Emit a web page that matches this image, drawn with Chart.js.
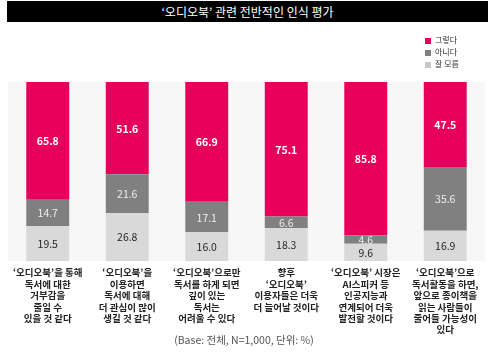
<!DOCTYPE html>
<html><head><meta charset="utf-8">
<script src="https://cdn.jsdelivr.net/npm/chart.js@4/dist/chart.umd.min.js"></script>
<style>
html,body{margin:0;padding:0;background:#fff;}
#wrap{position:relative;width:494px;height:355px;overflow:hidden;font-family:"Noto Sans CJK KR",sans-serif;}
#title{position:absolute;left:7px;top:1px;width:481px;height:21px;background:#000;color:#fff;font-size:12px;text-align:center;line-height:21px;}
#chart{position:absolute;left:0;top:0;}
#legend{position:absolute;left:425px;top:34px;font-size:8px;color:#333;}
#legend div{height:12px;line-height:12px;white-space:nowrap;}
#legend span{display:inline-block;width:6px;height:6px;margin-right:4px;vertical-align:-0.5px;}
#note{position:absolute;left:0;top:332px;width:488px;text-align:center;font-size:10.5px;color:#555;}
</style></head>
<body>
<div id="wrap">
<canvas id="chart" width="494" height="355"></canvas>
<div id="title">‘오디오북’ 관련 전반적인 인식 평가</div>
<div id="legend"></div>
<div id="note">(Base: 전체, N=1,000, 단위: %)</div>
</div>
<script>
const categories = [
  ["‘오디오북’을 통해","독서에 대한","거부감을","줄일 수","있을 것 같다"],
  ["‘오디오북’을","이용하면","독서에 대해","더 관심이 많이","생길 것 같다"],
  ["‘오디오북’으로만","독서를 하게 되면","깊이 있는","독서는","어려울 수 있다"],
  ["향후","‘오디오북’","이용자들은 더욱","더 늘어날 것이다"],
  ["‘오디오북’ 시장은","AI스피커 등","인공지능과","연계되어 더욱","발전할 것이다"],
  ["‘오디오북’으로","독서활동을 하면,","앞으로 종이책을","읽는 사람들이","줄어들 가능성이","있다"]
];
const seriesNames = ["그렇다","아니다","잘 모름"];
const yesValues = [65.8, 51.6, 66.9, 75.1, 85.8, 47.5];
const noValues = [14.7, 21.6, 17.1, 6.6, 4.6, 35.6];
const dontKnowValues = [19.5, 26.8, 16.0, 18.3, 9.6, 16.9];

const colors = {yes:"#e6005c", no:"#808080", dk:"#d9d9d9"};
const legendColors = [colors.yes, colors.no, "#c8c8c8"];
const FONT = "'Noto Sans CJK KR', sans-serif";

const leg = document.getElementById('legend');
seriesNames.forEach((n,i)=>{
  const d=document.createElement('div');
  d.innerHTML='<span style="background:'+legendColors[i]+'"></span>'+n;
  leg.appendChild(d);
});

const bgPlugin = {
  id:'bg',
  beforeDraw(chart){
    const {ctx, chartArea:a} = chart;
    ctx.save(); ctx.fillStyle='#f7f7f7';
    ctx.fillRect(a.left, a.top, a.right-a.left, a.bottom-a.top);
    ctx.restore();
  }
};
const labelPlugin = {
  id:'vals',
  afterDatasetsDraw(chart){
    const ctx=chart.ctx;
    chart.data.datasets.forEach((ds,di)=>{
      const meta=chart.getDatasetMeta(di);
      meta.data.forEach((el,i)=>{
        const v=ds.data[i];
        const y=(el.y+el.base)/2;
        ctx.save();
        ctx.font=(ds.labelBold?'bold ':'')+'10.5px '+FONT;
        ctx.fillStyle=ds.labelColor;
        ctx.textAlign='center'; ctx.textBaseline='middle';
        ctx.fillText(v.toFixed(1), el.x, y+0.5);
        ctx.restore();
      });
    });
  }
};

new Chart(document.getElementById('chart'),{
  type:'bar',
  data:{
    labels:categories,
    datasets:[
      {label:seriesNames[2], data:dontKnowValues, backgroundColor:colors.dk, labelColor:'#262626', labelBold:false},
      {label:seriesNames[1], data:noValues, backgroundColor:colors.no, labelColor:'#ececec', labelBold:false},
      {label:seriesNames[0], data:yesValues, backgroundColor:colors.yes, labelColor:'#ffffff', labelBold:true}
    ]
  },
  options:{
    responsive:false, animation:false,
    layout:{padding:{left:8,right:9,top:82,bottom:0}},
    plugins:{legend:{display:false}, tooltip:{enabled:false}, title:{display:false}},
    datasets:{bar:{categoryPercentage:1, barPercentage:0.54, borderWidth:0}},
    scales:{
      x:{stacked:true, grid:{display:false, drawTicks:false}, border:{display:false},
         ticks:{padding:6, color:'#222', maxRotation:0, autoSkip:false,
                font:{family:FONT, size:9.5, weight:'bold', lineHeight:1.2}},
         afterFit(s){ s.height=94; }},
      y:{stacked:true, display:false, min:0, max:100}
    }
  },
  plugins:[bgPlugin,labelPlugin]
});
</script>
</body></html>
